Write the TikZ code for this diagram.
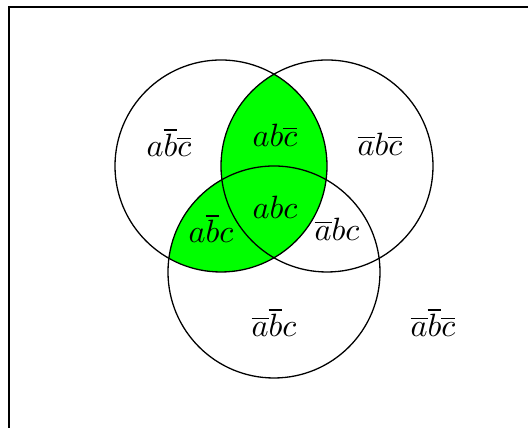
\documentclass[tikz,border=0pt]{standalone}
\begin{document}
\begin{tikzpicture}[x=0.31pt,y=-0.31pt,
  lbl/.style={anchor=base,inner sep=0pt},
  ring/.style={draw=black,line width=0.4pt}]
\useasboundingbox (0,0) rectangle (528,428);
\coordinate (A) at (221,166);
\coordinate (B) at (327,166);
\coordinate (C) at (274,272);
\def\rr{32.86pt}
\begin{scope}
  \clip (A) circle[radius=\rr];
  \fill[green] (B) circle[radius=\rr];
  \fill[green] (C) circle[radius=\rr];
\end{scope}
\draw[ring] (A) circle[radius=\rr];
\draw[ring] (B) circle[radius=\rr];
\draw[ring] (C) circle[radius=\rr];
\draw[line width=0.4pt] (9,440) -- (9,7) -- (540,7);
\node[lbl] (n1) at (169,157) {$a\overline{b}\overline{c}$};
\node[lbl] (n2) at (275,147) {$ab\overline{c}$};
\node[lbl] (n3) at (380,156) {$\overline{a}b\overline{c}$};
\node[lbl] (n4) at (275,219) {$abc$};
\node[lbl] (n5) at (211,243) {$a\overline{b}c$};
\node[lbl] (n6) at (337,241) {$\overline{a}bc$};
\node[lbl] (n7) at (274,337) {$\overline{a}\overline{b}c$};
\node[lbl] (n8) at (433,337) {$\overline{a}\overline{b}\overline{c}$};
\end{tikzpicture}
\end{document}
